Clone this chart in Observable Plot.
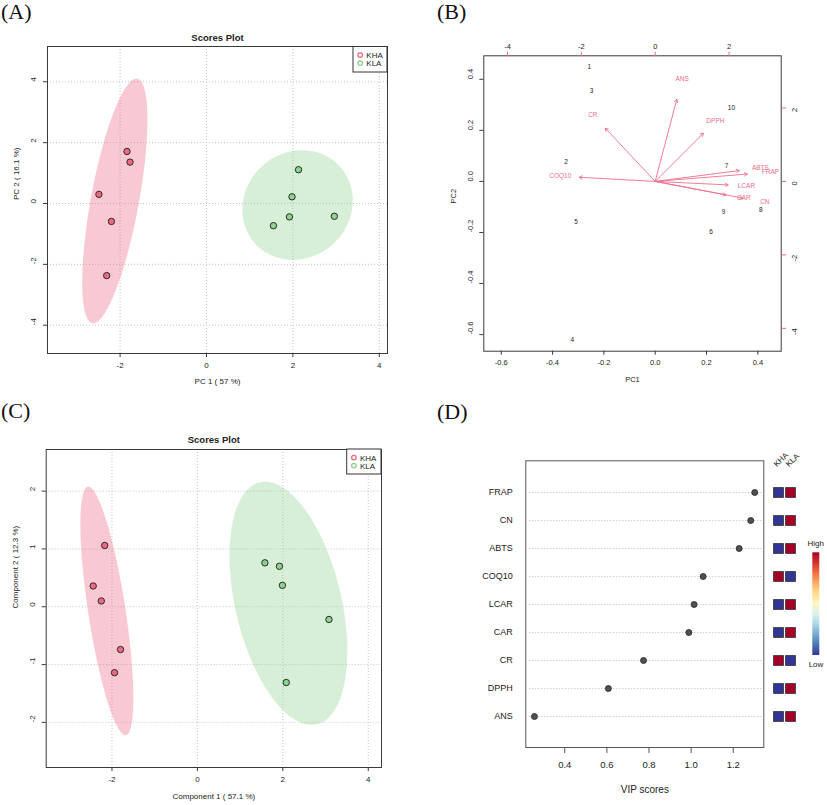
<!DOCTYPE html>
<html><head><meta charset="utf-8">
<script src="https://cdn.jsdelivr.net/npm/d3@7"></script>
<script src="https://cdn.jsdelivr.net/npm/@observablehq/plot@0.6"></script>
<style>
html,body{margin:0;padding:0;background:#fff;}
#fig{position:relative;width:827px;height:805px;overflow:hidden;background:#fff;}
</style></head><body><div id="fig"></div>
<script>
// ---------------- data ----------------
const groups = ["KHA", "KLA"];
const groupColors = ["#EE6A84", "#8DD38D"];
const sampleGroup = ["KHA","KHA","KHA","KHA","KHA","KLA","KLA","KLA","KLA","KLA"];

// Panel A: PCA scores
const pcaPC1 = [-1.84, -1.77, -2.49, -2.20, -2.31, 2.13, 1.98, 1.92, 1.55, 2.96];
const pcaPC2 = [1.71, 1.36, 0.30, -0.59, -2.37, 1.11, 0.22, -0.44, -0.73, -0.42];
const aTicksX = [-2, 0, 2, 4];
const aTicksY = [-4, -2, 0, 2, 4];

// Panel B: biplot
const sampleIds = ["1","2","3","4","5","6","7","8","9","10"];
const biScore1 = [-0.257, -0.347, -0.248, -0.323, -0.308, 0.218, 0.278, 0.412, 0.266, 0.297];
const biScore2 = [0.447, 0.076, 0.353, -0.622, -0.160, -0.197, 0.059, -0.113, -0.121, 0.287];
const variables = ["ANS","DPPH","CR","COQ10","ABTS","FRAP","LCAR","CAR","CN"];
const loading1 = [0.73, 1.63, -1.69, -2.57, 2.85, 3.12, 2.47, 2.40, 2.97];
const loading2 = [2.79, 1.64, 1.81, 0.14, 0.37, 0.25, -0.12, -0.46, -0.57];
const bTicks = [-0.6, -0.4, -0.2, 0, 0.2, 0.4];
const bTicksLoad = [-4, -2, 0, 2];
const loadScale = 6.95; // loading axis units per score axis unit

// Panel C: PLS-DA scores
const plsC1 = [-2.17, -2.44, -2.25, -1.80, -1.94, 1.58, 1.92, 1.99, 3.08, 2.08];
const plsC2 = [1.06, 0.36, 0.10, -0.74, -1.14, 0.76, 0.70, 0.37, -0.22, -1.31];
const cTicksX = [-2, 0, 2, 4];
const cTicksY = [-2, -1, 0, 1, 2];

// Panel D: VIP scores
const vipVars = ["FRAP","CN","ABTS","COQ10","LCAR","CAR","CR","DPPH","ANS"];
const vipScores = [1.302, 1.283, 1.228, 1.057, 1.014, 0.989, 0.774, 0.607, 0.256];
const khaLevel = [0, 0, 0, 1, 0, 0, 1, 0, 0];
const klaLevel = [1, 1, 1, 0, 1, 1, 0, 1, 1];
const dTicks = [0.4, 0.6, 0.8, 1.0, 1.2];

// ---------------- helpers ----------------
const FONT = "'Liberation Sans', Arial, Helvetica, sans-serif";
const fig = document.getElementById("fig");
function place(node, left, top) {
  node.style.position = "absolute";
  node.style.left = left + "px";
  node.style.top = top + "px";
  fig.appendChild(node);
}
// 95% confidence ellipse (chi-square, 2 df) from the group's points
function confEllipse(pts, n = 160) {
  const mx = d3.mean(pts, d => d.x), my = d3.mean(pts, d => d.y);
  const k = pts.length - 1;
  const sxx = d3.sum(pts, d => (d.x - mx) ** 2) / k;
  const syy = d3.sum(pts, d => (d.y - my) ** 2) / k;
  const sxy = d3.sum(pts, d => (d.x - mx) * (d.y - my)) / k;
  const t = Math.sqrt(-2 * Math.log(0.05));
  const tr = sxx + syy, det = sxx * syy - sxy * sxy;
  const disc = Math.sqrt(Math.max(0, tr * tr / 4 - det));
  const l1 = tr / 2 + disc, l2 = Math.max(0, tr / 2 - disc);
  const th = Math.abs(sxy) < 1e-12 ? (sxx >= syy ? 0 : Math.PI / 2) : Math.atan2(l1 - sxx, sxy);
  const out = [];
  for (let i = 0; i < n; i++) {
    const a = 2 * Math.PI * i / n;
    const u = t * Math.sqrt(l1) * Math.cos(a), v = t * Math.sqrt(l2) * Math.sin(a);
    out.push({x: mx + u * Math.cos(th) - v * Math.sin(th), y: my + u * Math.sin(th) + v * Math.cos(th)});
  }
  return out;
}

function scoresPlot(o) {
  const data = o.x.map((v, i) => ({x: v, y: o.y[i], g: sampleGroup[i]}));
  const lab = {fontSize: 8, fill: "#222"};
  const grid = {stroke: "#c4c4c4", strokeOpacity: 1, strokeDasharray: "1,2"};
  return Plot.plot({
    width: o.width, height: o.height,
    marginLeft: o.ml, marginRight: o.mr, marginTop: o.mt, marginBottom: o.mb,
    style: {fontFamily: FONT, background: "transparent", overflow: "visible"},
    x: {domain: o.xDomain}, y: {domain: o.yDomain},
    color: {domain: groups, range: groupColors},
    marks: [
      Plot.gridX(o.xTicks, grid),
      Plot.gridY(o.yTicks, grid),
      ...groups.map((g, i) => Plot.line(confEllipse(data.filter(d => d.g === g)),
        {x: "x", y: "y", fill: groupColors[i], fillOpacity: 0.36, stroke: "none", curve: "linear-closed"})),
      Plot.dot(data, {x: "x", y: "y", fill: "g", stroke: "#2b2b2b", strokeWidth: 1, r: 3.2}),
      Plot.frame({stroke: "#3a3a3a"}),
      Plot.axisX(o.xTicks, {tickSize: 4, stroke: "#3a3a3a", fill: "none"}),
      Plot.axisY(o.yTicks, {tickSize: 4, stroke: "#3a3a3a", fill: "none"}),
      Plot.text(o.xTicks, {x: d => d, text: d => String(d), frameAnchor: "bottom", dy: o.xTickDy, ...lab}),
      Plot.text(o.yTicks, {y: d => d, text: d => String(d), frameAnchor: "left", dx: o.yTickDx, rotate: -90, ...lab}),
      Plot.text([o.xLabel], {text: d => d, frameAnchor: "bottom", dy: o.xLabelDy, ...lab}),
      Plot.text([o.yLabel], {text: d => d, frameAnchor: "left", dx: o.yLabelDx, rotate: -90, ...lab}),
      Plot.text([o.title], {text: d => d, frameAnchor: "top", dy: o.titleDy, fontWeight: "bold", fontSize: 9.5, fill: "#222"})
    ]
  });
}

// ---------------- Panel A ----------------
place(scoresPlot({
  x: pcaPC1, y: pcaPC2, width: 400, height: 400, ml: 47, mr: 13, mt: 46, mb: 47,
  xDomain: [-3.68, 4.19], yDomain: [-4.93, 5.16], xTicks: aTicksX, yTicks: aTicksY,
  xTickDy: 14, yTickDx: -14, xLabel: "PC 1 ( 57 %)", xLabelDy: 30,
  yLabel: "PC 2 ( 16.1 %)", yLabelDx: -31, title: "Scores Plot", titleDy: -12
}), 0, 0);

// ---------------- Panel C ----------------
place(scoresPlot({
  x: plsC1, y: plsC2, width: 400, height: 415, ml: 45.7, mr: 19, mt: 59, mb: 38,
  xDomain: [-3.54, 4.31], yDomain: [-2.78, 2.72], xTicks: cTicksX, yTicks: cTicksY,
  xTickDy: 14, yTickDx: -13.5, xLabel: "Component 1 ( 57.1 %)", xLabelDy: 31,
  yLabel: "Component 2 ( 12.3 %)", yLabelDx: -31, title: "Scores Plot", titleDy: -13.3
}), 0, 390);

// ---------------- Panel B ----------------
{
  const pink = "#EE6E8C";
  const scores = sampleIds.map((id, i) => ({id, x: biScore1[i], y: biScore2[i]}));
  const loads = variables.map((v, i) => ({v, x: loading1[i] / loadScale, y: loading2[i] / loadScale}));
  const lab = {fontSize: 7.5, fill: "#222"};
  const dark = "#3a3a3a";
  place(Plot.plot({
    width: 407, height: 400, marginLeft: 63.3, marginRight: 46.3, marginTop: 55.3, marginBottom: 49.3,
    style: {fontFamily: FONT, background: "transparent", overflow: "visible"},
    x: {domain: [-0.668, 0.491]}, y: {domain: [-0.665, 0.492]},
    marks: [
      Plot.text(scores, {x: "x", y: "y", text: "id", fontSize: 6.5, fill: "#222"}),
      Plot.arrow(loads, {x1: 0, y1: 0, x2: d => d.x * 0.8, y2: d => d.y * 0.8, stroke: pink,
        strokeWidth: 0.9, headLength: 5.5, headAngle: 60}),
      Plot.text(loads, {x: "x", y: "y", text: "v", fill: pink, fontSize: 6.5}),
      Plot.frame({stroke: dark}),
      Plot.axisX(bTicks, {tickSize: 4, stroke: dark, fill: "none"}),
      Plot.axisY(bTicks, {tickSize: 4, stroke: dark, fill: "none"}),
      Plot.axisX(bTicksLoad.map(v => v / loadScale), {anchor: "top", tickSize: 4.5, stroke: pink, fill: "none"}),
      Plot.axisY(bTicksLoad.map(v => v / loadScale), {anchor: "right", tickSize: 4.5, stroke: pink, fill: "none"}),
      Plot.text(bTicks, {x: d => d, text: d => d.toFixed(1), frameAnchor: "bottom", dy: 13.6, ...lab}),
      Plot.text(bTicks, {y: d => d, text: d => d.toFixed(1), frameAnchor: "left", dx: -13.3, rotate: -90, ...lab}),
      Plot.text(bTicksLoad, {x: d => d / loadScale, text: d => String(d), frameAnchor: "top", dy: -12, ...lab}),
      Plot.text(bTicksLoad, {y: d => d / loadScale, text: d => String(d), frameAnchor: "right", dx: 13.3, rotate: -90, ...lab}),
      Plot.text(["PC1"], {text: d => d, frameAnchor: "bottom", dy: 30.3, ...lab}),
      Plot.text(["PC2"], {text: d => d, frameAnchor: "left", dx: -30, rotate: -90, ...lab})
    ]
  }), 420, 0);
}

// ---------------- Panel D ----------------
{
  const vip = vipVars.map((v, i) => ({v, score: vipScores[i]}));
  const frameCol = "#555";
  place(Plot.plot({
    width: 407, height: 415, marginLeft: 105.3, marginRight: 63.7, marginTop: 70.3, marginBottom: 58,
    style: {fontFamily: FONT, background: "transparent", overflow: "visible"},
    x: {domain: [0.215, 1.345]},
    y: {type: "point", domain: vipVars, padding: 1, axis: null},
    marks: [
      Plot.ruleY(vipVars, {y: d => d, stroke: "#b8b8b8", strokeDasharray: "1,2", insetLeft: 4, insetRight: 2}),
      Plot.dot(vip, {x: "score", y: "v", r: 3, fill: "#505050", stroke: "#222", strokeWidth: 0.8}),
      Plot.frame({stroke: frameCol}),
      Plot.axisX(dTicks, {tickSize: 6, stroke: frameCol, fill: "none"}),
      Plot.text(dTicks, {x: d => d, text: d => d.toFixed(1), frameAnchor: "bottom", dy: 20.7, fontSize: 9.5, fill: "#222"}),
      Plot.text(["VIP scores"], {text: d => d, frameAnchor: "bottom", dy: 45, fontSize: 10, fill: "#222"}),
      Plot.text(vipVars, {y: d => d, text: d => d, frameAnchor: "left", dx: -13, textAnchor: "end", fontSize: 9, fill: "#222"})
    ]
  }), 420, 390);

  const heat = vipVars.flatMap((v, i) => [
    {v, g: groups[0], level: khaLevel[i]},
    {v, g: groups[1], level: klaLevel[i]}
  ]);
  place(Plot.plot({
    width: 60, height: 415, marginLeft: 17.7, marginRight: 30, marginTop: 70.3, marginBottom: 58,
    style: {fontFamily: FONT, background: "transparent", overflow: "visible"},
    x: {type: "point", domain: groups, padding: 0, axis: null},
    y: {type: "point", domain: vipVars, padding: 1, axis: null},
    color: {type: "linear", scheme: "RdYlBu", reverse: true, domain: [0, 1]},
    marks: [
      Plot.dot(heat, {x: "g", y: "v", fill: "level", symbol: "square", r: 5.64, stroke: "#333", strokeWidth: 0.8}),
      Plot.text(groups, {x: d => d, text: d => d, frameAnchor: "top", rotate: -45, textAnchor: "start",
        dx: -5.5, dy: 2.5, fontSize: 8, fill: "#222"})
    ]
  }), 760, 390);
}

// ---------------- overlay: panel letters, legends ----------------
{
  const ov = d3.select(fig).append("svg")
    .attr("width", 827).attr("height", 805)
    .style("position", "absolute").style("left", "0px").style("top", "0px")
    .style("pointer-events", "none").style("font-family", FONT);

  const letters = [["(A)", 1, 18.5], ["(B)", 437, 19], ["(C)", 1, 418.3], ["(D)", 437, 419.3]];
  ov.selectAll("text.letter").data(letters).join("text").attr("class", "letter")
    .attr("x", d => d[1]).attr("y", d => d[2]).text(d => d[0])
    .style("font-family", "'Liberation Serif', 'Times New Roman', serif").style("font-size", "22px").attr("fill", "#111");

  // group legends (top-right of each scores plot)
  const legends = [{x: 353, y: 46.5, w: 34, h: 25.5}, {x: 346.7, y: 449, w: 34.3, h: 25}];
  legends.forEach(L => {
    const g = ov.append("g").attr("transform", `translate(${L.x},${L.y})`);
    g.append("rect").attr("width", L.w).attr("height", L.h).attr("fill", "#fff").attr("stroke", "#333").attr("stroke-width", 1);
    groups.forEach((name, i) => {
      const cy = 8.6 + i * 8;
      g.append("circle").attr("cx", 7.2).attr("cy", cy).attr("r", 2.3)
        .attr("fill", "none").attr("stroke", groupColors[i]).attr("stroke-width", 1.3);
      g.append("text").attr("x", 13.3).attr("y", cy + 2.9).text(name)
        .style("font-size", "8px").attr("fill", "#222");
    });
  });

  // VIP colour key
  const grad = ov.append("defs").append("linearGradient").attr("id", "vipgrad")
    .attr("x1", 0).attr("y1", 0).attr("x2", 0).attr("y2", 1);
  d3.range(0, 1.0001, 0.1).forEach(t => grad.append("stop").attr("offset", t).attr("stop-color", d3.interpolateRdYlBu(t)));
  ov.append("rect").attr("x", 812.3).attr("y", 552.3).attr("width", 7).attr("height", 102.7).attr("fill", "url(#vipgrad)");
  ov.append("text").attr("x", 815.8).attr("y", 546).attr("text-anchor", "middle").text("High")
    .style("font-size", "8px").attr("fill", "#222");
  ov.append("text").attr("x", 816).attr("y", 667).attr("text-anchor", "middle").text("Low")
    .style("font-size", "8px").attr("fill", "#222");
}
</script>
</body></html>
